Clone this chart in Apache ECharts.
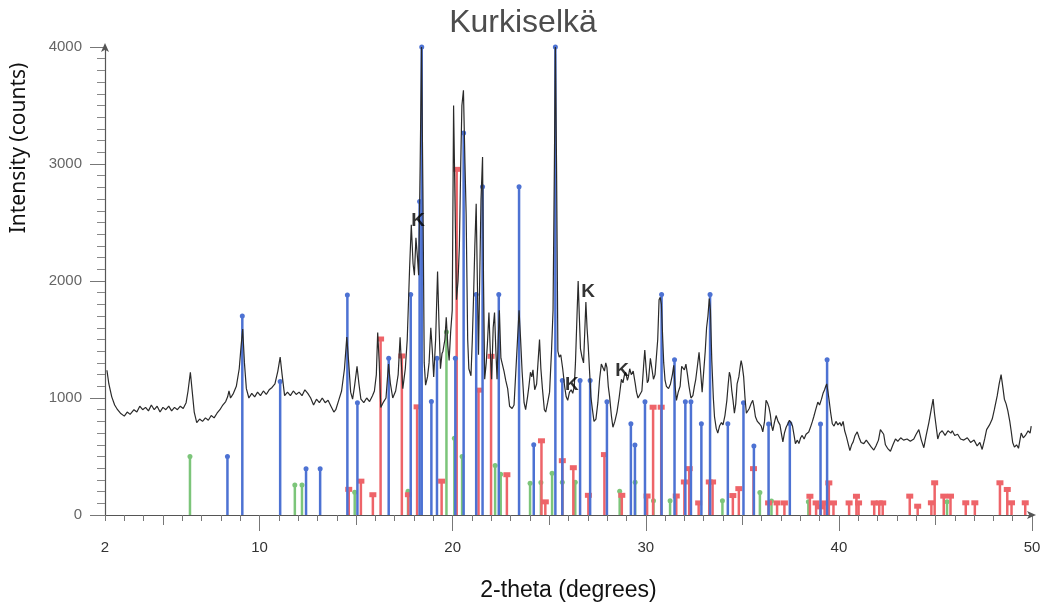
<!DOCTYPE html>
<html>
<head>
<meta charset="utf-8">
<script src="https://cdn.jsdelivr.net/npm/echarts@6/dist/echarts.min.js"></script>
<style>html,body{margin:0;padding:0;background:#fff}#c{width:1046px;height:602px}</style>
</head>
<body>
<div id="c"></div>
<script>
// ---- Data ----
const chartTitle = 'Kurkiselkä';
const xName = '2-theta (degrees)';
const yName = 'Intensity (counts)';
const xLabelValues = [2, 10, 20, 30, 40, 50];
const yTickValues = [0, 1000, 2000, 3000, 4000];

// measured pattern [2-theta, counts]
const pattern = [
[2.1,1237],[2.2,1120],[2.35,1010],[2.5,940],[2.65,900],[2.8,870],[3.0,845],[3.15,880],[3.3,860],[3.5,900],[3.65,880],[3.8,930],[3.95,900],[4.1,920],[4.25,890],[4.4,940],[4.55,900],[4.7,930],[4.85,880],[5.0,920],[5.15,900],[5.3,930],[5.45,890],[5.6,920],[5.75,900],[5.9,930],[6.05,910],[6.2,960],[6.3,1060],[6.42,1220],[6.52,1050],[6.62,880],[6.75,790],[6.9,820],[7.05,800],[7.2,830],[7.35,810],[7.5,850],[7.65,830],[7.8,870],[7.95,900],[8.1,940],[8.25,970],[8.35,1010],[8.42,1060],[8.5,1000],[8.65,1040],[8.8,1100],[8.95,1250],[9.05,1450],[9.13,1590],[9.22,1300],[9.32,1080],[9.45,1000],[9.6,1040],[9.75,1010],[9.9,1050],[10.05,1020],[10.2,1060],[10.35,1030],[10.5,1070],[10.65,1090],[10.8,1120],[10.95,1230],[11.07,1350],[11.17,1200],[11.3,1020],[11.45,1050],[11.6,1020],[11.75,1060],[11.9,1030],[12.05,1050],[12.2,1020],[12.35,1070],[12.5,1040],[12.65,1000],[12.8,940],[12.95,990],[13.1,960],[13.25,1000],[13.4,960],[13.55,980],[13.7,930],[13.85,880],[13.95,900],[14.1,980],[14.25,1060],[14.4,1250],[14.52,1520],[14.62,1300],[14.72,1050],[14.82,990],[14.92,1100],[15.05,1270],[15.15,1120],[15.25,990],[15.4,960],[15.55,1000],[15.7,970],[15.85,1020],[15.95,1060],[16.05,1200],[16.12,1560],[16.2,1300],[16.28,920],[16.4,960],[16.55,1000],[16.68,1290],[16.78,1120],[16.9,1000],[17.05,1060],[17.18,1200],[17.28,1520],[17.36,1250],[17.42,1080],[17.55,1250],[17.65,1500],[17.77,2100],[17.86,2480],[17.95,2150],[18.02,2050],[18.1,2370],[18.18,2200],[18.24,2050],[18.32,3000],[18.39,4000],[18.46,2800],[18.53,1300],[18.6,1110],[18.7,1180],[18.78,1300],[18.87,1600],[18.95,1400],[19.02,1180],[19.12,1500],[19.22,2080],[19.3,1600],[19.37,1250],[19.45,1380],[19.5,1400],[19.6,1500],[19.67,1690],[19.75,1450],[19.82,1320],[19.9,1570],[19.98,1750],[20.05,3500],[20.13,2600],[20.2,1840],[20.28,2000],[20.35,2300],[20.42,3000],[20.48,3500],[20.56,3630],[20.64,3000],[20.7,2570],[20.78,1500],[20.84,1250],[20.95,1190],[21.02,1500],[21.08,1840],[21.15,2300],[21.22,2660],[21.28,2000],[21.34,1370],[21.4,2000],[21.47,2700],[21.55,3060],[21.6,2000],[21.66,1160],[21.74,1300],[21.8,1460],[21.88,1730],[21.95,1400],[22.02,1160],[22.1,1600],[22.17,1730],[22.24,1400],[22.3,1160],[22.36,1500],[22.42,1750],[22.5,1340],[22.58,1340],[22.66,1230],[22.75,1150],[22.85,1080],[22.95,930],[23.08,910],[23.18,940],[23.28,1250],[23.36,1500],[23.44,1750],[23.52,1500],[23.6,1220],[23.7,960],[23.78,900],[23.88,1010],[23.95,1100],[24.03,1220],[24.1,1180],[24.16,1240],[24.25,1070],[24.35,1120],[24.42,1300],[24.5,1500],[24.57,1250],[24.65,1080],[24.75,900],[24.82,880],[24.92,960],[25.02,1050],[25.12,1400],[25.2,1750],[25.27,3000],[25.32,4000],[25.38,3000],[25.45,1400],[25.52,1350],[25.6,1370],[25.7,1250],[25.8,1100],[25.88,1010],[25.96,980],[26.05,1050],[26.14,1070],[26.22,1040],[26.3,1100],[26.36,1300],[26.44,1700],[26.5,2000],[26.56,1700],[26.62,1420],[26.7,1350],[26.78,1300],[26.85,1600],[26.9,1820],[26.96,1600],[27.02,1450],[27.1,1200],[27.16,1010],[27.24,900],[27.32,800],[27.42,820],[27.52,960],[27.61,1160],[27.7,1290],[27.78,1290],[27.86,1230],[27.93,1300],[27.99,1260],[28.06,1100],[28.13,1010],[28.22,850],[28.3,750],[28.4,800],[28.51,880],[28.62,1000],[28.74,1160],[28.82,1130],[28.9,1200],[28.96,1220],[29.05,1150],[29.1,1180],[29.17,1250],[29.25,1200],[29.35,1230],[29.45,1130],[29.52,1050],[29.6,1000],[29.7,1000],[29.8,1060],[29.9,1300],[29.95,1410],[30.02,1250],[30.08,1130],[30.14,1150],[30.24,1340],[30.32,1250],[30.4,1160],[30.48,1200],[30.55,1190],[30.62,1500],[30.69,1840],[30.75,1860],[30.81,1800],[30.88,1500],[30.93,1300],[31.0,1150],[31.07,1100],[31.18,1080],[31.28,1120],[31.38,1200],[31.45,1280],[31.52,1100],[31.59,980],[31.68,1050],[31.78,1100],[31.86,1270],[31.93,1280],[32.0,1240],[32.08,1290],[32.16,1200],[32.24,1100],[32.34,1000],[32.44,1020],[32.52,1100],[32.59,1160],[32.68,1280],[32.76,1390],[32.83,1250],[32.92,1050],[33.0,1040],[33.08,1400],[33.15,1600],[33.22,1700],[33.29,1850],[33.35,1750],[33.42,1320],[33.5,1000],[33.56,840],[33.65,740],[33.73,700],[33.82,760],[33.92,790],[34.0,770],[34.1,850],[34.2,980],[34.27,1120],[34.33,1220],[34.39,1180],[34.45,1070],[34.52,980],[34.59,870],[34.66,950],[34.73,1120],[34.82,1180],[34.9,1280],[34.94,1320],[35.0,1270],[35.07,1180],[35.14,1000],[35.21,870],[35.28,880],[35.36,910],[35.45,950],[35.54,980],[35.6,930],[35.68,840],[35.78,800],[35.89,780],[35.98,760],[36.06,710],[36.15,800],[36.23,980],[36.3,960],[36.38,920],[36.45,860],[36.52,760],[36.58,720],[36.66,790],[36.75,850],[36.85,800],[36.95,770],[37.02,700],[37.1,625],[37.18,700],[37.27,750],[37.36,780],[37.44,810],[37.52,790],[37.6,760],[37.68,680],[37.75,610],[37.85,640],[37.93,610],[38.02,660],[38.1,680],[38.2,650],[38.3,690],[38.44,710],[38.55,760],[38.63,800],[38.7,840],[38.8,900],[38.91,965],[39.0,940],[39.1,990],[39.18,1040],[39.26,1070],[39.32,1100],[39.37,1120],[39.43,1060],[39.48,1000],[39.57,880],[39.66,780],[39.75,760],[39.85,800],[39.95,770],[40.05,790],[40.13,760],[40.22,800],[40.3,720],[40.39,670],[40.48,610],[40.57,550],[40.66,600],[40.74,625],[40.84,680],[40.95,710],[41.05,660],[41.15,620],[41.29,610],[41.42,640],[41.55,610],[41.68,580],[41.81,555],[41.92,590],[42.05,640],[42.15,730],[42.24,740],[42.32,690],[42.41,600],[42.52,570],[42.67,545],[42.8,600],[42.93,650],[43.05,630],[43.2,660],[43.35,640],[43.53,650],[43.7,630],[43.88,650],[44.0,690],[44.14,730],[44.27,640],[44.4,575],[44.52,680],[44.66,790],[44.78,900],[44.88,990],[44.95,870],[45.02,780],[45.12,650],[45.22,700],[45.35,720],[45.5,680],[45.65,720],[45.8,700],[45.87,720],[46.0,680],[46.15,690],[46.3,650],[46.47,640],[46.65,660],[46.82,620],[47.0,640],[47.16,590],[47.3,620],[47.42,560],[47.55,650],[47.65,730],[47.8,770],[47.94,820],[48.05,900],[48.2,1020],[48.3,1120],[48.4,1200],[48.5,1080],[48.57,990],[48.66,950],[48.75,890],[48.85,800],[48.92,720],[49.0,620],[49.09,580],[49.2,600],[49.3,570],[49.44,700],[49.55,660],[49.66,680],[49.8,720],[49.9,700],[49.96,760]
];

// reference phase sticks [2-theta, relative height in counts]
const bluePhase = [
[8.34,500],[9.11,1700],[11.07,1140],[12.41,396],[13.14,396],[14.55,1880],[15.07,960],[16.69,1340],[17.83,1885],[18.29,2680],[18.40,4000],[18.9,970],[19.19,1340],[20.14,1340],[20.57,3266],[21.22,1885],[21.55,2805],[22.39,1885],[23.44,2805],[24.2,600],[25.32,4000],[25.68,1150],[26.6,1150],[27.12,1150],[27.99,969],[29.23,780],[29.44,598],[29.96,968],[30.82,1885],[31.49,1326],[32.05,968],[32.34,968],[32.88,780],[33.33,1885],[34.25,780],[35.06,960],[35.6,590],[36.36,778],[37.46,781],[39.05,778],[39.39,1326]
];
const redPhase = [
[14.62,215],[15.25,285],[15.87,169],[16.27,1500],[17.37,1355],[17.71,169],[18.16,920],[19.43,285],[20.21,2950],[21.34,1063],[21.99,1352],[22.81,340],[24.6,630],[24.8,108],[25.68,460],[26.25,400],[27.03,164],[27.86,512],[28.76,164],[30.07,158],[30.38,917],[30.8,917],[31.58,158],[32.0,278],[32.25,392],[32.74,99],[33.29,278],[33.46,278],[34.51,162],[34.82,221],[35.58,392],[36.36,99],[36.8,99],[37.18,99],[38.5,156],[38.82,99],[39.05,65],[39.26,99],[39.48,270],[39.72,99],[40.53,99],[40.91,156],[41.02,99],[41.83,99],[42.09,99],[42.27,99],[43.67,157],[44.08,71],[44.79,100],[44.96,271],[45.43,157],[45.78,157],[46.57,100],[47.04,100],[48.34,271],[48.72,214],[48.94,100],[49.65,100]
];
const greenPhase = [
[6.4,500],[11.83,257],[12.2,257],[14.93,195],[17.69,202],[19.68,1565],[20.09,656],[20.49,499],[22.2,424],[22.49,348],[24.01,272],[24.57,278],[25.15,357],[25.68,280],[26.35,280],[28.65,204],[29.45,279],[30.4,121],[31.26,121],[33.97,122],[35.91,193],[36.51,119],[38.42,114],[45.6,114]
];

// peak annotations [2-theta, counts, text]
const annotations = [[18.21,2513,'K'],[27.01,1906,'K'],[26.18,1111,'K'],[28.77,1231,'K']];

// ---- Chart ----
const minorTicks = [];
for (let v = 2; v <= 50; v++) minorTicks.push(v);
const midTicks = [5, 15, 25, 35, 45];
const majorTicks = [10, 20, 30, 40, 50];

function stickSeries(name, data, color, marker) {
  return {
    type: 'custom', name: name, data: data, z: 2,
    renderItem: function (params, api) {
      const x = api.value(0), y = api.value(1);
      const top = api.coord([x, y]);
      const base = api.coord([x, 0]);
      const children = [{
        type: 'line',
        shape: {x1: base[0], y1: base[1], x2: top[0], y2: top[1]},
        style: {stroke: color, lineWidth: 2.5}
      }];
      if (marker === 'rect') {
        children.push({type: 'rect', shape: {x: top[0] - 3.5, y: top[1] - 3, width: 7, height: 5}, style: {fill: color}});
      } else {
        children.push({type: 'circle', shape: {cx: top[0], cy: top[1], r: 2.5}, style: {fill: color}});
      }
      return {type: 'group', children: children};
    }
  };
}

const chart = echarts.init(document.getElementById('c'), null, {renderer: 'canvas'});
chart.setOption({
  animation: false,
  backgroundColor: '#ffffff',
  title: {
    text: chartTitle, left: 'center', top: 2,
    textStyle: {fontFamily: 'Liberation Sans, Arial, sans-serif', fontSize: 32, fontWeight: 'normal', color: '#4d4d4d'}
  },
  grid: {left: 105, right: 14, top: 47, bottom: 87, containLabel: false, outerBoundsMode: 'none'},
  xAxis: [{
    type: 'value', min: 2, max: 50,
    name: xName, nameLocation: 'middle', nameGap: 64,
    nameTextStyle: {fontFamily: 'Liberation Sans, Arial, sans-serif', fontSize: 23, color: '#111'},
    axisLine: {show: true, lineStyle: {color: '#555', width: 1.2}, symbol: ['none', 'arrow'], symbolSize: [6, 9], symbolOffset: [0, 4]},
    axisTick: {show: true, customValues: minorTicks, length: 6, lineStyle: {color: '#777'}},
    axisLabel: {show: true, customValues: xLabelValues, margin: 25, fontFamily: 'Liberation Sans, Arial, sans-serif', fontSize: 15, color: '#333'},
    splitLine: {show: false}
  }, {
    type: 'value', min: 2, max: 50, position: 'bottom',
    axisLine: {show: false},
    axisTick: {show: true, customValues: majorTicks, length: 16, lineStyle: {color: '#777'}},
    axisLabel: {show: false},
    splitLine: {show: false}
  }, {
    type: 'value', min: 2, max: 50, position: 'bottom',
    axisLine: {show: false},
    axisTick: {show: true, customValues: midTicks, length: 10, lineStyle: {color: '#777'}},
    axisLabel: {show: false},
    splitLine: {show: false}
  }],
  yAxis: {
    type: 'value', min: 0, max: 4000, interval: 1000,
    axisLine: {show: true, lineStyle: {color: '#555', width: 1.2}, symbol: ['none', 'arrow'], symbolSize: [6, 9], symbolOffset: [0, 4]},
    axisTick: {show: true, length: 15, lineStyle: {color: '#777'}},
    minorTick: {show: true, splitNumber: 10, length: 8, lineStyle: {color: '#888'}},
    axisLabel: {margin: 23, fontFamily: 'Liberation Sans, Arial, sans-serif', fontSize: 15, color: '#666',
      formatter: v => String(v)},
    splitLine: {show: false}
  },
  graphic: [{
    type: 'text', x: 19, y: 148, rotation: Math.PI / 2,
    style: {text: yName, fontFamily: 'Noto Sans, sans-serif', fontSize: 21, fill: '#111', align: 'center', verticalAlign: 'middle'}
  }],
  series: [
    stickSeries('green', greenPhase, '#7cc57a', 'circle'),
    stickSeries('red', redPhase, '#ee6469', 'rect'),
    stickSeries('blue', bluePhase, '#4d72d3', 'circle'),
    {
      type: 'line', name: 'pattern', data: pattern, showSymbol: false, z: 5,
      lineStyle: {color: '#2a2a2a', width: 1.2}
    },
    {
      type: 'scatter', name: 'K', z: 6, symbolSize: 0,
      data: annotations.map(a => ({value: [a[0], a[1]], name: a[2]})),
      label: {show: true, position: 'inside', formatter: p => p.name, fontFamily: 'Liberation Sans, Arial, sans-serif', fontWeight: 'bold', fontSize: 19, color: '#000'}
    }
  ]
});
</script>
</body>
</html>
